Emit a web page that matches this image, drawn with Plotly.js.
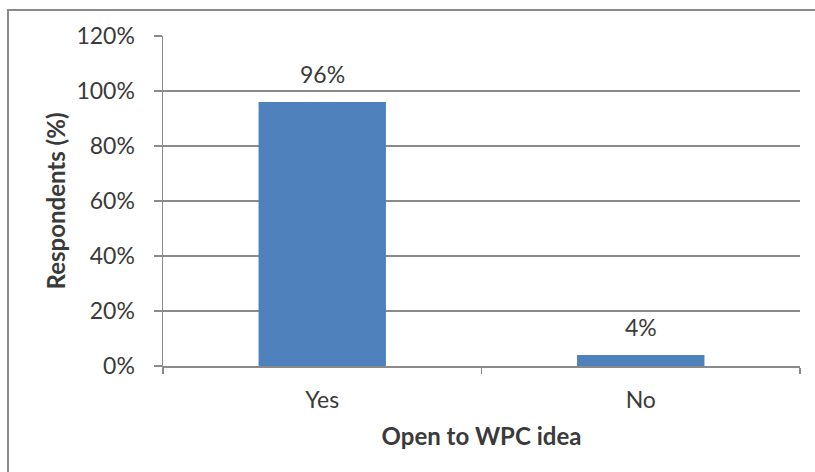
<!DOCTYPE html>
<html>
<head>
<meta charset="utf-8">
<script src="https://cdn.plot.ly/plotly-3.0.1.min.js"></script>
<style>
  html, body { margin: 0; padding: 0; background: #ffffff; }
  #wrap { position: relative; width: 815px; height: 472px; overflow: hidden; }
  #chart { position: absolute; left: 0; top: 0; width: 815px; height: 472px; }
  /* frame around the chart area (top and left edges) */
  #frame { position: absolute; left: 7px; top: 9px; width: 820px; height: 480px;
           border-left: 2px solid #8a8a8a; border-top: 2px solid #8a8a8a; pointer-events: none; }
</style>
</head>
<body>
<div id="wrap">
  <div id="chart"></div>
  <div id="frame"></div>
</div>
<script>
// Survey answers: share of respondents open to the WPC idea
const categories = ['Yes', 'No'];
const shares = [96, 4];
const yTicks = [0, 20, 40, 60, 80, 100, 120];
const yTickLabels = ['0%', '20%', '40%', '60%', '80%', '100%', '120%'];

const textColor = '#3a3a3a';
const fontFamily = 'Lato, "Noto Sans", sans-serif';

const bar = {
  type: 'bar',
  x: categories,
  y: shares,
  width: 0.4,
  marker: { color: '#4f81bd', line: { width: 0 } },
  hoverinfo: 'skip'
};

const labels = categories.map((c, i) => ({
  x: c, y: shares[i], xref: 'x', yref: 'y',
  text: shares[i] + '%', showarrow: false,
  yanchor: 'bottom', yshift: 12,
  font: { family: fontFamily, size: 23, color: textColor }
}));

const layout = {
  width: 815, height: 472,
  margin: { l: 163, r: 15, t: 36, b: 106 },
  paper_bgcolor: 'rgba(0,0,0,0)',
  plot_bgcolor: '#ffffff',
  showlegend: false,
  bargap: 0.6,
  xaxis: {
    type: 'category',
    tickson: 'boundaries',
    ticks: 'outside', ticklen: 6, tickwidth: 1.5, tickcolor: '#8a8a8a',
    showline: true, linecolor: '#8a8a8a', linewidth: 1.5,
    showgrid: false, zeroline: false,
    tickfont: { family: fontFamily, size: 23, color: textColor },
    ticklabelstandoff: 13,
    title: { text: '<b>Open to WPC idea</b>', standoff: 16,
             font: { family: fontFamily, size: 24, color: textColor } }
  },
  yaxis: {
    range: [0, 120],
    tickvals: yTicks, ticktext: yTickLabels,
    ticks: 'outside', ticklen: 8, tickwidth: 1.5, tickcolor: '#8a8a8a',
    showline: true, linecolor: '#8a8a8a', linewidth: 1.5,
    showgrid: true, gridcolor: '#8a8a8a', gridwidth: 1.5,
    zeroline: false,
    tickfont: { family: fontFamily, size: 23, color: textColor },
    ticklabelstandoff: 14,
    title: { text: '<b>Respondents (%)</b>', standoff: 4,
             font: { family: fontFamily, size: 24, color: textColor } }
  },
  annotations: labels
};

Plotly.newPlot('chart', [bar], layout, { displayModeBar: false, staticPlot: true });
</script>
</body>
</html>
